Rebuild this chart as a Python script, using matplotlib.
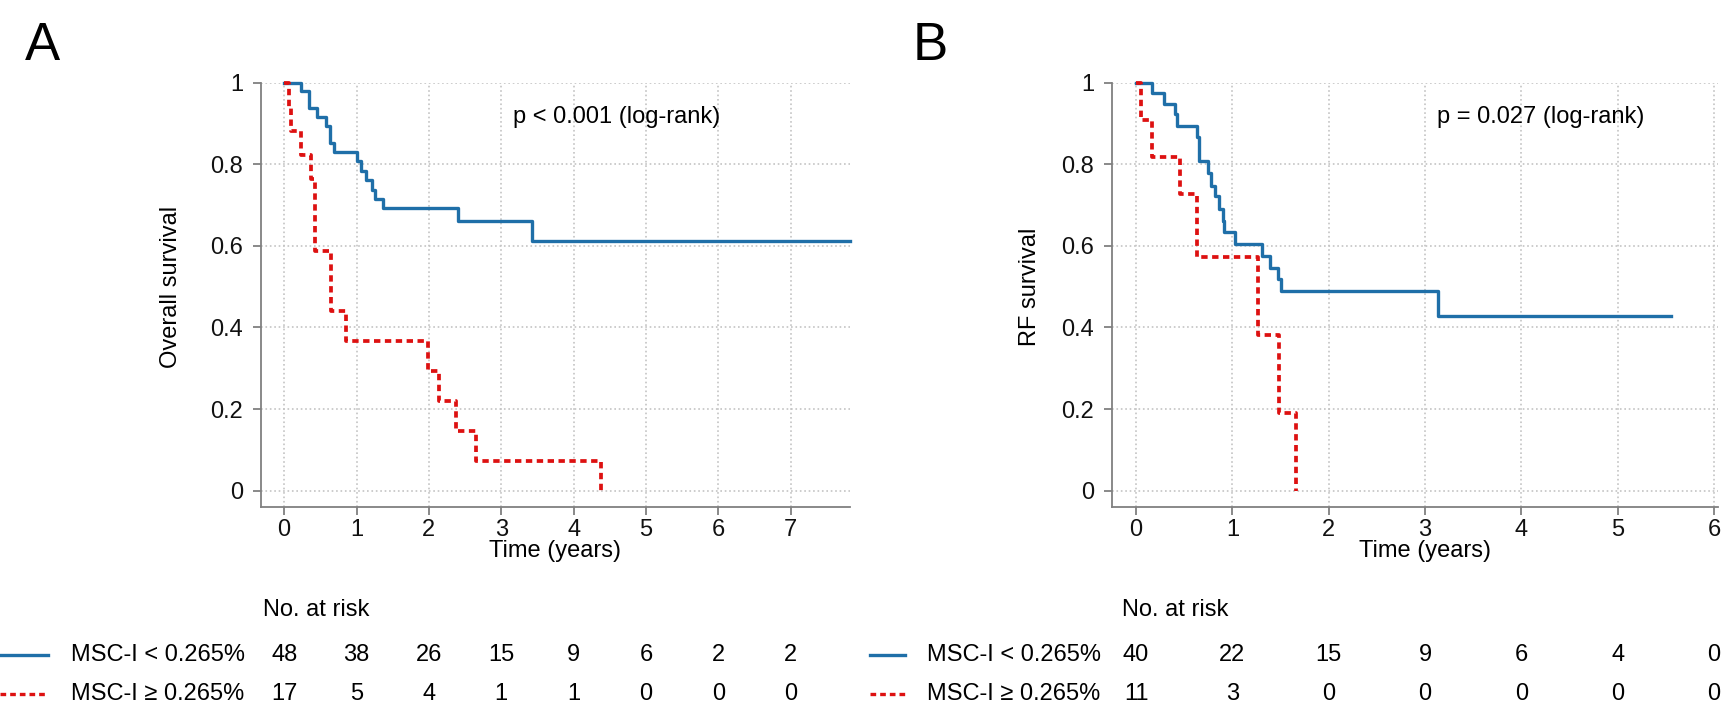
import numpy as np
import matplotlib
matplotlib.use('Agg')
from matplotlib import pyplot as plt
from matplotlib import transforms
from matplotlib.lines import Line2D

plt.rcParams['font.family'] = ['Liberation Sans', 'DejaVu Sans']

# Panel A: overall survival (times in years, survival after each step)
a_lo_t = [0, 0.23, 0.35, 0.46, 0.58, 0.63, 0.69, 1.0, 1.06, 1.13, 1.21, 1.26, 1.36, 2.4, 3.43, 7.82]
a_lo_s = [1, 0.979, 0.937, 0.915, 0.894, 0.851, 0.829, 0.808, 0.784, 0.762, 0.737, 0.715, 0.692, 0.661, 0.613, 0.613]
a_hi_t = [0, 0.07, 0.1, 0.23, 0.37, 0.43, 0.645, 0.86, 1.99, 2.14, 2.38, 2.65, 4.38]
a_hi_s = [1, 0.941, 0.882, 0.823, 0.765, 0.588, 0.441, 0.367, 0.294, 0.220, 0.147, 0.073, 0]

# Panel B: RF survival
b_lo_t = [0, 0.17, 0.29, 0.40, 0.42, 0.63, 0.65, 0.75, 0.78, 0.82, 0.86, 0.90, 0.91, 1.03,
          1.31, 1.39, 1.47, 1.50, 3.13, 5.55]
b_lo_s = [1, 0.975, 0.949, 0.923, 0.894, 0.866, 0.807, 0.778, 0.748, 0.722, 0.691, 0.662, 0.634, 0.604,
          0.576, 0.547, 0.518, 0.49, 0.428, 0.428]
b_hi_t = [0, 0.05, 0.17, 0.46, 0.63, 1.27, 1.48, 1.66]
b_hi_s = [1, 0.909, 0.818, 0.727, 0.573, 0.382, 0.191, 0]

# numbers at risk
a_risk_lo = [48, 38, 26, 15, 9, 6, 2, 2]
a_risk_hi = [17, 5, 4, 1, 1, 0, 0, 0]
b_risk_lo = [40, 22, 15, 9, 6, 4, 0]
b_risk_hi = [11, 3, 0, 0, 0, 0, 0]

lab_lo = 'MSC-I < 0.265%'
lab_hi = 'MSC-I \u2265 0.265%'
BLUE = '#1f6fa8'
RED = '#dd1111'
FS = 17

W, H = 1722, 706
fig = plt.figure(figsize=(W / 100, H / 100), dpi=100)


def px_axes(left, top, right, bottom):
    return fig.add_axes([left / W, 1 - bottom / H, (right - left) / W, (bottom - top) / H])


def ftext(x, y, s, size=FS, **kw):
    fig.text(x / W, 1 - y / H, s, fontsize=size, **kw)


def setup(ax, xmin, xmax, nt):
    ax.set_xlim(xmin, xmax)
    ax.set_ylim(-0.04, 1.0)
    ax.set_xticks(range(nt + 1))
    ax.set_yticks([0, 0.2, 0.4, 0.6, 0.8, 1.0])
    ax.set_yticklabels(['0', '0.2', '0.4', '0.6', '0.8', '1'])
    ax.grid(True, color='#c4c4c4', linestyle=':', linewidth=1.2)
    ax.set_axisbelow(True)
    for s in ['top', 'right']:
        ax.spines[s].set_visible(False)
    for s in ['left', 'bottom']:
        ax.spines[s].set_color('#808080')
        ax.spines[s].set_linewidth(1.3)
    ax.tick_params(direction='out', length=6, width=1.3, color='#808080',
                   labelsize=FS, labelcolor='#111111')
    ax.tick_params(axis='x', pad=3)
    ax.tick_params(axis='y', pad=7)


def curves(ax, t_lo, s_lo, t_hi, s_hi):
    ax.step(t_lo, s_lo, where='post', color=BLUE, lw=2.4, clip_on=False, zorder=3)
    ax.step(t_hi, s_hi, where='post', color=RED, lw=2.7, linestyle=(0, (1.7, 1.2)),
            clip_on=False, zorder=4)


def risk_table(ax, x_left, line_l, line_r, lab_x, r_lo, r_hi):
    tr = transforms.blended_transform_factory(ax.transData, fig.transFigure)
    ftext(x_left, 610, 'No. at risk', ha='left', va='center')
    for yy, lab, vals, col, ls in [(655, lab_lo, r_lo, BLUE, '-'), (694, lab_hi, r_hi, RED, (0, (1.7, 1.2)))]:
        fig.add_artist(Line2D([line_l / W, line_r / W], [1 - yy / H, 1 - yy / H],
                              color=col, lw=2.4, linestyle=ls))
        ftext(lab_x, yy, lab, ha='left', va='center')
        for i, v in enumerate(vals):
            ax.text(i, 1 - yy / H, str(v), transform=tr, ha='center', va='center',
                    fontsize=FS, clip_on=False)


# panel A
axA = px_axes(261, 82.7, 850, 507)
setup(axA, -0.32, 7.82, 7)
curves(axA, a_lo_t, a_lo_s, a_hi_t, a_hi_s)
axA.text(3.16, 0.915, 'p < 0.001 (log-rank)', fontsize=FS, ha='left', va='center')
ftext(171, 287, 'Overall survival', rotation=90, ha='center', va='center')
ftext(555, 551, 'Time (years)', ha='center', va='center')
risk_table(axA, 263, 0, 48, 71, a_risk_lo, a_risk_hi)
ftext(42, 60, 'A', size=38, ha='center', va='baseline')

# panel B
axB = px_axes(1112, 82.7, 1718, 507)
setup(axB, -0.25, 6.04, 6)
curves(axB, b_lo_t, b_lo_s, b_hi_t, b_hi_s)
axB.text(3.12, 0.915, 'p = 0.027 (log-rank)', fontsize=FS, ha='left', va='center')
ftext(1030, 287, 'RF survival', rotation=90, ha='center', va='center')
ftext(1425, 551, 'Time (years)', ha='center', va='center')
risk_table(axB, 1122, 870, 905, 927, b_risk_lo, b_risk_hi)
ftext(930, 60, 'B', size=38, ha='center', va='baseline')

fig.savefig('out.png', dpi=100)
